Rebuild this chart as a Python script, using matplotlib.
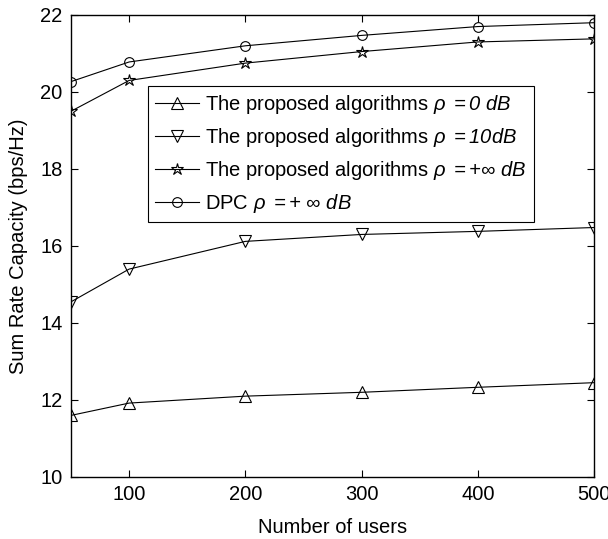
import matplotlib.pyplot as plt
import numpy as np

plt.rcParams['font.family'] = 'Liberation Sans'
plt.rcParams['mathtext.fontset'] = 'custom'
# only the legend uses math text, and there it is all italic
plt.rcParams['mathtext.rm'] = 'Liberation Sans:italic'
plt.rcParams['mathtext.it'] = 'Liberation Sans:italic'

# data
users = [50, 100, 200, 300, 400, 500]
rho0 = [11.6, 11.92, 12.1, 12.2, 12.33, 12.45]
rho10 = [14.55, 15.4, 16.12, 16.3, 16.38, 16.48]
rho_inf = [19.5, 20.3, 20.75, 21.05, 21.3, 21.38]
dpc = [20.27, 20.78, 21.2, 21.47, 21.7, 21.8]

labels = [r"The proposed algorithms $\rho\ =0\ dB$",
          r"The proposed algorithms $\rho\ =10dB$",
          r"The proposed algorithms $\rho\ =+\infty\ dB$",
          r"DPC $\rho\ =+\ \infty\ dB$"]

fs = 14.5
fig = plt.figure(figsize=(6.08, 5.39), dpi=100)
ax = fig.add_axes([71/608, 1-477/539, 523/608, 462/539])

kw = dict(color='black', lw=0.8, markerfacecolor='none', markeredgecolor='black', markeredgewidth=0.8)
ax.plot(users, rho0, marker='^', markersize=8, label=labels[0], **kw)
ax.plot(users, rho10, marker='v', markersize=8, label=labels[1], **kw)
ax.plot(users, rho_inf, marker='*', markersize=9, label=labels[2], **kw)
ax.plot(users, dpc, marker='o', markersize=7, label=labels[3], **kw)

ax.set_xlim(50, 500)
ax.set_ylim(10, 22)
ax.set_xticks([100, 200, 300, 400, 500])
ax.set_yticks([10, 12, 14, 16, 18, 20, 22])
ax.tick_params(direction='in', top=True, right=True, labelsize=fs, length=5, width=0.8, pad=6)
for s in ax.spines.values():
    s.set_linewidth(1.0)

ax.set_xlabel('Number of users', fontsize=fs, labelpad=10)
ax.set_ylabel('Sum Rate Capacity (bps/Hz)', fontsize=fs, labelpad=9)

leg = ax.legend(loc='upper left', bbox_to_anchor=((148-71)/523, (477-86)/462),
                borderaxespad=0, fontsize=fs, fancybox=False, framealpha=1,
                edgecolor='black', handlelength=2.2, handletextpad=0.3,
                labelspacing=0.5, borderpad=0.35)
leg.get_frame().set_linewidth(0.8)

plt.savefig('out.png', dpi=100)
